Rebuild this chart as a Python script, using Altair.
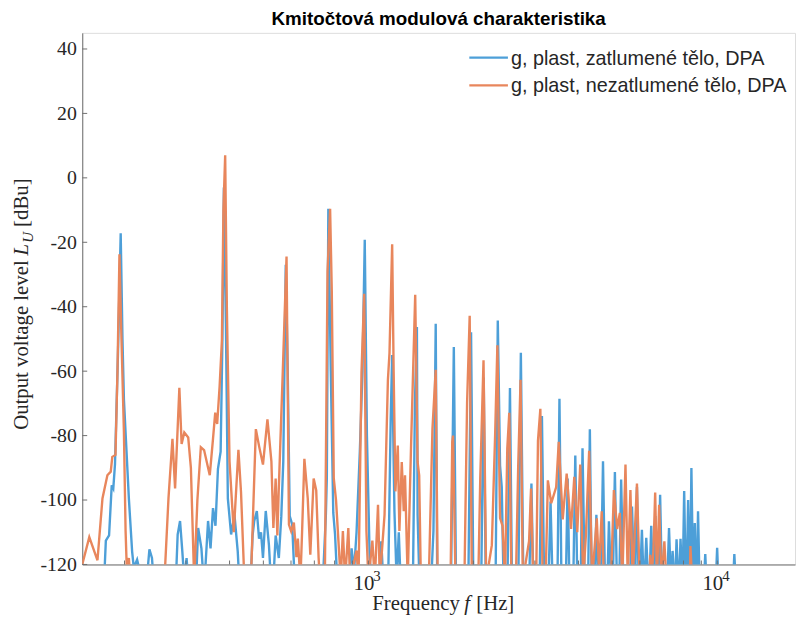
import altair as alt
import pandas as pd

# ---------------- data ----------------
series_names = ["g, plast, zatlumené tělo, DPA", "g, plast, nezatlumené tělo, DPA"]
series_colors = ["#4d9fd8", "#e8865c"]
chart_title = "Kmitočtová modulová charakteristika"

blue_f = [174.8, 176.8, 180.6, 183.8, 185.7, 187.8, 191.5, 195.0, 197.3, 199.2, 205.8, 210.3, 212.6, 217.3,
          221.1, 231.5, 235.7, 239.7, 242.4, 280.7, 284.0, 288.5, 292.9, 296.7, 301.2, 304.5, 320.8, 325.1,
          332.2, 337.0, 341.4, 347.1, 352.8, 358.6, 364.5, 370.5, 377.1, 381.6, 385.3, 390.4, 395.5, 404.1,
          413.2, 422.2, 426.4, 459.6, 465.7, 470.8, 478.9, 485.9, 492.2, 498.7, 507.9, 518.7, 525.5, 534.1,
          542.2, 553.7, 562.8, 570.2, 579.6, 587.2, 595.0, 604.7, 614.7, 740.5, 755.1, 760.1, 767.6, 780.2,
          793.1, 802.4, 814.1, 883.3, 895.0, 909.7, 924.7, 944.9, 961.7, 976.2, 990.3, 1008.5, 1019.8,
          1074.6, 1088.7, 1103.0, 1139.6, 1158.4, 1169.8, 1181.3, 1187.5, 1204.7, 1222.1, 1236.6, 1341.8,
          1359.3, 1377.3, 1383.6, 1399.9, 1514.1, 1536.1, 1549.1, 1559.3, 1574.7, 1725.4, 1757.2, 1782.7,
          1934.5, 1969.0, 1998.6, 2105.9, 2140.5, 2168.7, 2315.2, 2348.7, 2384.2, 2410.8, 2439.4, 2504.0,
          2545.2, 2578.7, 2690.4, 2734.9, 2779.9, 2891.1, 2932.7, 2967.5, 3096.2, 3143.2, 3188.5, 3283.8,
          3327.0, 3370.5, 3482.6, 3528.4, 3574.8, 3681.7, 3725.1, 3766.6, 3866.2, 3917.2, 3968.8, 4060.6,
          4108.5, 4168.1, 4264.5, 4312.3, 4363.0, 4449.5, 4501.9, 4552.4, 4642.5, 4703.2, 4765.0, 4843.4,
          4891.2, 4955.6, 5020.4, 5087.1, 5154.1, 5239.0, 5301.1, 5377.5, 5629.1, 5695.5, 5778.0, 5816.0,
          5884.6, 5950.2, 6009.0, 6079.8, 6148.0, 6188.3, 6257.4, 6331.8, 6393.9, 6465.2, 6541.5, 6584.7,
          6649.3, 6736.9, 6780.9, 6856.4, 6937.8, 7191.7, 7271.6, 7357.7, 7381.5, 7444.6, 7528.0, 7577.3,
          7642.0, 7727.3, 7778.2, 7844.7, 7931.5, 7957.7, 8036.3, 8115.7, 8168.4, 8249.1, 8330.5, 8357.7,
          8428.7, 8523.0, 8551.1, 8618.5, 8691.8, 8736.9, 8806.0, 8892.9, 9158.6, 9236.4, 9309.2, 9905.3,
          9989.8, 10068.5, 11102.5, 11189.9, 11285.1]
blue_db = [-125, -112.6, -111, -95.4, -96.4, -88.9, -55, -17.2, -50, -68.8, -99.5, -116, -121, -118.5,
           -122, -125, -115.3, -118, -125, -125, -110.7, -106.5, -116, -125, -118, -125, -125, -108.7,
           -115, -125, -120, -106.5, -115, -102.5, -108, -90.3, -85, -50, -3, -45, -99.5, -110.7,
           -104.6, -116, -125, -125, -111, -106.5, -103.4, -112, -110, -118, -103.4, -114, -125, -125,
           -111, -118, -105, -88, -27, -60, -105, -107.6, -125, -125, -105, -93, -9.6, -60,
           -104, -110.7, -125, -125, -115, -122, -110, -85, -60, -19.2, -80, -118, -125,
           -125, -112.8, -125, -125, -75, -55, -88, -103.5, -125, -110, -125, -125,
           -70, -46.3, -104.6, -125, -125, -109.6, -75, -45.3, -125, -125, -52.5, -125,
           -125, -47.9, -125, -125, -62, -125, -125, -44.3, -89.3, -96, -125, -125,
           -65.2, -125, -125, -54.3, -125, -125, -94.9, -125, -125, -73.9, -125, -125,
           -100.5, -125, -125, -68.6, -125, -125, -93.3, -125, -125, -86.2, -125, -125,
           -83.9, -125, -125, -78, -125, -125, -104.6, -125, -125, -88, -125, -125,
           -106.6, -125, -125, -91.3, -125, -125, -93.6, -125, -125, -102, -125, -125,
           -96, -125, -125, -109.2, -125, -125, -111.7, -125, -125, -108, -125, -125,
           -105, -125, -125, -98.4, -125, -125, -108.7, -125, -125, -115.8, -125, -125,
           -112.2, -125, -125, -112, -125, -125, -97.2, -125, -125, -100, -125, -125,
           -90.1, -125, -125, -107.1, -125, -125, -103.5, -125, -125, -116.8, -125, -125,
           -114.8, -125, -125, -116.8, -125]

orange_f = [151.3, 158.5, 167.3, 172.9, 178.6, 182.6, 184.5, 188.4, 190.9, 193.4, 196.0, 199.2, 201.4, 203.1,
            205.8, 207.8, 258.7, 261.6, 267.3, 274.4, 279.2, 287.2, 291.5, 296.7, 304.5, 309.9, 316.7, 323.5,
            330.9, 338.1, 351.0, 358.6, 363.9, 368.6, 374.6, 380.3, 384.1, 388.6, 392.9, 399.9, 411.3, 424.1,
            431.4, 441.1, 460.5, 475.8, 486.5, 498.7, 513.6, 527.2, 534.1, 542.2, 548.3, 553.7, 568.4, 582.6,
            591.9, 600.8, 611.5, 621.9, 627.7, 638.4, 645.5, 655.4, 670.1, 681.5, 696.8, 708.7, 720.0, 726.1,
            750.2, 763.6, 776.7, 785.3, 795.7, 807.6, 820.5, 832.9, 845.0, 857.5, 875.9, 886.2, 924.7, 936.9,
            955.4, 972.4, 987.0, 1000.0, 1026.5, 1043.3, 1065.5, 1078.0, 1112.4, 1137.4, 1149.3, 1169.8,
            1181.3, 1195.1, 1214.1, 1226.9, 1246.3, 1262.7, 1273.3, 1296.2, 1324.4, 1361.9, 1383.6, 1398.1,
            1413.7, 1489.6, 1526.0, 1559.3, 1579.8, 1719.8, 1738.9, 1748.1, 1776.9, 1884.4, 1918.0, 1951.2,
            1979.0, 2065.0, 2092.1, 2137.7, 2175.8, 2258.2, 2307.6, 2342.4, 2384.2, 2423.4, 2463.4, 2500.6,
            2533.6, 2570.3, 2646.9, 2687.0, 2729.6, 2770.7, 2887.2, 2925.1, 2967.5, 3026.4, 3062.0, 3110.6,
            3157.3, 3220.0, 3268.7, 3342.0, 3453.2, 3512.3, 3605.2, 3700.6, 3808.6, 3891.7, 3968.8, 4047.4,
            4127.2, 4200.9, 4292.3, 4377.1, 4513.8, 4582.1, 4663.7, 4734.0, 4955.6, 5054.0, 5164.2, 5256.2,
            5342.6, 5455.4, 5538.0, 5636.2, 5721.4, 5884.6, 5989.4, 6400.0, 6422.8, 6477.5, 6563.0, 6636.5,
            6714.6, 6812.4, 6914.8, 7051.9, 7144.7, 8340.0, 8374.0, 8467.0]
orange_db = [-120, -111.5, -118.7, -99.5, -92.3, -91.2, -86.6, -86, -60, -23.7, -50, -79, -109.6, -122,
             -118, -125, -125, -120, -99.5, -81, -96.4, -65.2, -82.6, -79, -80.6, -90, -125, -100,
             -83.6, -84.5, -92.3, -81, -72.9, -76.4, -64.7, -50.4, -10, 7, -40, -88, -110, -84.4,
             -97.5, -125, -125, -78, -83.5, -89, -75, -88, -108.7, -93.3, -111, -96, -60, -24.4,
             -107.6, -109.7, -107, -117.7, -112, -125, -110, -87.2, -99.5, -117, -93.3, -97, -118, -125,
             -125, -29, -9.6, -35, -93.3, -100, -112.6, -125, -109.6, -125, -108.7, -125, -115.7, -125,
             -60.5, -36, -109.6, -125, -112.6, -125, -101.5, -125, -104.6, -62.7, -54.4, -20.6,
             -60, -97.3, -83.1, -109.6, -88.2, -103.5, -92.3, -125, -84.1, -36.3, -88.2, -92.3,
             -125, -125, -78, -59.6, -125, -125, -82, -80, -125, -125, -69.8, -42.8,
             -125, -125, -93.3, -56.6, -125, -114, -80, -52, -105.6, -108, -125, -84.1,
             -72.9, -125, -125, -89.8, -62.7, -125, -112.8, -96.4, -125, -125, -81.6, -71.7,
             -125, -125, -93.9, -101, -96, -81.9, -106, -91.8, -109, -92.8, -110, -89,
             -125, -111, -84.7, -125, -105.7, -122, -103.5, -125, -125, -96.9, -109, -104,
             -125, -89, -125, -96.9, -125, -94.9, -125, -125, -117, -125, -115, -97.7,
             -125, -101.5, -125, -112.8, -125, -125, -114.3, -125]

y_tick_values = [-120, -100, -80, -60, -40, -20, 0, 20, 40]
x_tick_values = [200, 300, 400, 500, 600, 700, 800, 900, 1000,
                 2000, 3000, 4000, 5000, 6000, 7000, 8000, 9000, 10000]
x_label_values = [1000, 10000]
x_label_exponents = ["3", "4"]

# ---------------- chart ----------------
W, H = 720, 537
AX = "#6f6f6f"
TXT = "#262626"
SERIF = "Liberation Serif"
SANS = "Liberation Sans"

xs = alt.Scale(type="log", domain=[151.3, 16700], nice=False)
ys = alt.Scale(domain=[-120, 45], nice=False, zero=False)

blue_df = pd.DataFrame({"f": blue_f, "db": blue_db})
orange_df = pd.DataFrame({"f": orange_f, "db": orange_db})
one = pd.DataFrame({"k": [0]})

x_axis = alt.Axis(values=x_label_values, labelExpr="'10'", labelOffset=-5,
                  tickSize=0, grid=False, domainColor=AX, domainWidth=1, labelFont=SERIF,
                  labelFontSize=21, labelColor=TXT, labelPadding=25, labelBaseline="alphabetic",
                  title=None)
y_axis = alt.Axis(values=y_tick_values, labelExpr="'' + datum.value", tickSize=0, grid=False,
                  domainColor=AX, domainWidth=1, labelFont=SERIF, labelFontSize=20,
                  labelColor=TXT, labelPadding=6, title=None)

blue_line = alt.Chart(blue_df).mark_line(color=series_colors[0], strokeWidth=2.4, clip=True).encode(
    x=alt.X("f:Q", scale=xs, axis=x_axis),
    y=alt.Y("db:Q", scale=ys, axis=y_axis),
    order="f:Q",
)
orange_line = alt.Chart(orange_df).mark_line(color=series_colors[1], strokeWidth=2.4, clip=True).encode(
    x=alt.X("f:Q", scale=xs, axis=x_axis),
    y=alt.Y("db:Q", scale=ys, axis=y_axis),
    order="f:Q",
)

y_ticks = alt.Chart(pd.DataFrame({"v": y_tick_values})).mark_rule(color=AX, strokeWidth=1).encode(
    y=alt.Y("v:Q", scale=ys, axis=y_axis), x=alt.value(0), x2=alt.value(5))
x_ticks = alt.Chart(pd.DataFrame({"v": x_tick_values})).mark_rule(color=AX, strokeWidth=1).encode(
    x=alt.X("v:Q", scale=xs, axis=x_axis), y=alt.value(H), y2=alt.value(H - 4))
x_exp = alt.Chart(pd.DataFrame({"v": x_label_values, "e": x_label_exponents})).mark_text(
    align="left", baseline="alphabetic", dx=5, font=SERIF, fontSize=15, color=TXT).encode(
    x=alt.X("v:Q", scale=xs, axis=x_axis), y=alt.value(H + 17), text="e:N")

# legend
legend_layers = []
for i, (name, col) in enumerate(zip(series_names, series_colors)):
    yy = 25 + 28 * i
    legend_layers.append(alt.Chart(one).mark_rule(color=col, strokeWidth=2.4).encode(
        x=alt.value(391), x2=alt.value(430), y=alt.value(yy)))
    legend_layers.append(alt.Chart(one).mark_text(align="left", baseline="middle", font=SANS,
                                                  fontSize=20, color=TXT).encode(
        x=alt.value(433), y=alt.value(yy + 1), text=alt.value(name)))

# axis titles with italic symbols
def txt(s, x, y, size=20, italic=False, angle=0, align="left", baseline="alphabetic"):
    props = dict(align=align, baseline=baseline, font=SERIF, fontSize=size, color=TXT)
    if italic:
        props["fontStyle"] = "italic"
    if angle:
        props["angle"] = angle
    return alt.Chart(one).mark_text(**props).encode(x=alt.value(x), y=alt.value(y), text=alt.value(s))

title_layers = [
    txt("Frequency", 293, 583, size=21),
    txt("f", 386, 583, size=21, italic=True),
    txt("[Hz]", 398, 583, size=21),
    txt("Output voltage level", -55, 401, size=21, angle=270),
    txt("L", -55, 225, size=21, italic=True, angle=270),
    txt("U", -50, 212, size=15, italic=True, angle=270),
    txt("[dBu]", -55, 196, size=21, angle=270),
]

chart = alt.layer(blue_line, orange_line, y_ticks, x_ticks, x_exp, *legend_layers, *title_layers).properties(
    width=W, height=H,
    title=alt.TitleParams(chart_title, font=SANS, fontSize=19, fontWeight="bold", color="#000000",
                          anchor="middle", frame="group", offset=4),
    autosize=alt.AutoSizeParams(type="none"),
    padding={"left": 75, "top": 22, "right": 1, "bottom": 55},
).configure_view(stroke=None).configure(background="white")

chart.save("out.html", embed_options={"renderer": "svg", "actions": False})
